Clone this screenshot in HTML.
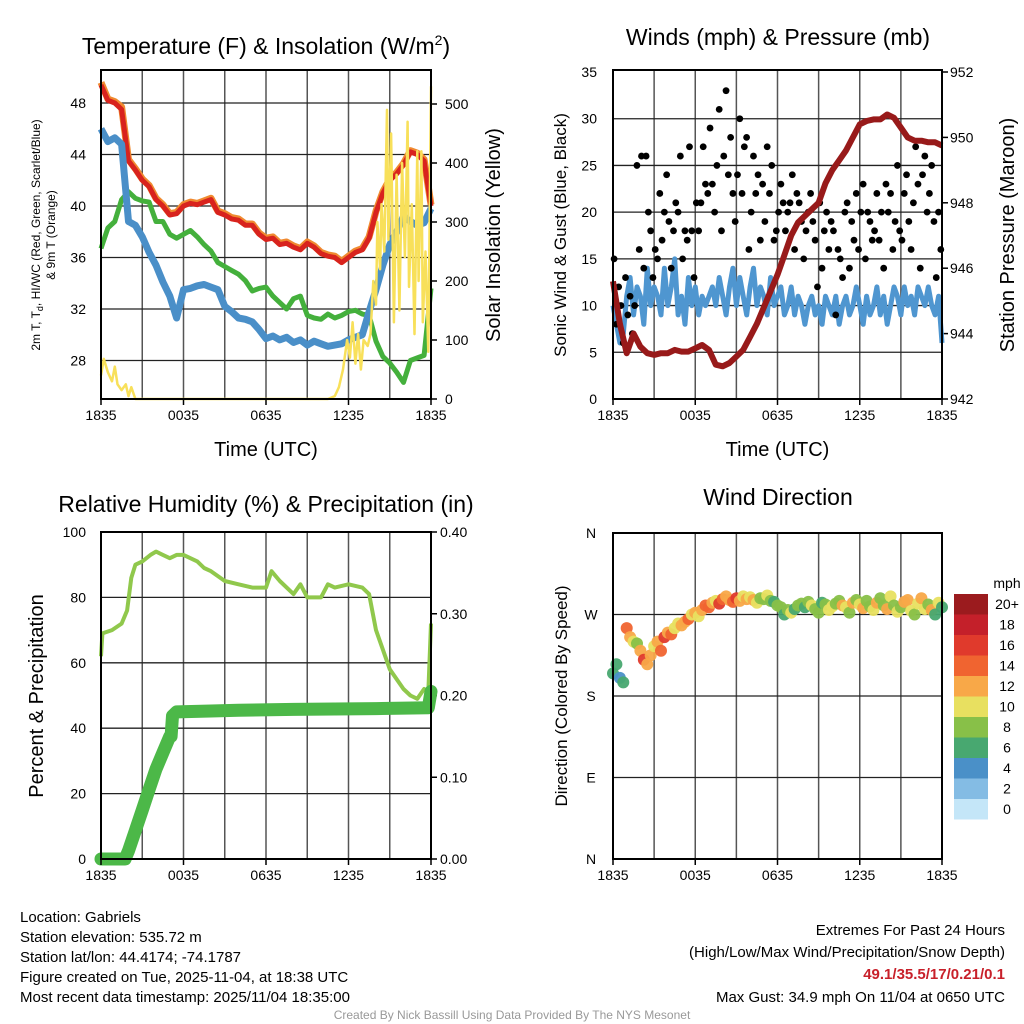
<!DOCTYPE html>
<html><head><meta charset="utf-8"><style>
body{margin:0;background:#fff;width:1024px;height:1024px;overflow:hidden;font-family:"Liberation Sans",sans-serif}
svg{position:absolute;left:0;top:0}
text{font-family:"Liberation Sans",sans-serif}
</style></head><body>
<svg id="c" width="1024" height="1024" viewBox="0 0 1024 1024"></svg>
<script>
// ---- data (hours since 1835 UTC) ----
const tempRed=[49.4,48.2,48.0,47.5,43.5,42.8,42.0,41.5,40.5,40.0,39.3,39.4,40.0,40.2,40.1,40.3,40.5,39.5,39.3,39.0,38.9,38.5,38.5,37.8,37.4,37.5,37.0,37.1,36.8,36.6,37.1,36.8,36.3,36.1,36.0,35.6,36.0,36.4,36.6,37.5,39.5,41.0,42.0,42.5,43.2,44.2,44.0,43.5,40.0];
const tempOrange=[49.6,48.3,48.1,47.7,43.6,42.9,42.1,41.6,40.6,40.1,39.4,39.5,40.1,40.3,40.2,40.4,40.6,39.6,39.4,39.1,39.0,38.6,38.6,37.9,37.5,37.6,37.1,37.2,36.9,36.7,37.2,36.9,36.4,36.2,36.1,35.7,36.1,36.5,36.7,37.6,39.6,41.1,42.1,42.6,43.3,44.3,44.1,43.6,40.1];
const tempGreen=[36.7,38.3,38.8,40.5,41.1,40.6,40.4,40.3,38.8,38.8,37.8,37.5,37.8,38.1,37.6,37.0,36.5,35.6,35.3,35.0,34.7,34.2,33.4,33.6,33.7,33.0,32.5,32.0,32.8,33.0,31.5,31.3,31.2,31.6,31.3,31.5,31.8,31.9,31.6,31.5,29.5,28.3,27.8,27.1,26.3,28.0,28.2,28.4,33.6];
const tempBlue=[46.0,45.0,45.3,44.8,38.8,38.5,37.6,36.4,35.4,34.1,33.0,31.3,33.5,33.6,33.8,33.9,33.7,33.5,32.2,31.8,31.3,31.2,31.0,30.4,29.7,29.9,29.6,29.8,29.4,29.6,29.2,29.5,29.3,29.1,29.2,29.3,29.6,29.8,30.0,31.8,33.5,35.4,37.0,38.0,39.2,38.8,38.5,38.7,39.8];
const solarHours=[0,0.2,0.5,0.8,1.0,1.2,1.5,1.8,2.0,2.2,2.5,16.5,17.0,17.3,17.6,17.9,18.1,18.3,18.5,18.7,18.9,19.1,19.4,19.6,19.8,20.0,20.1,20.3,20.4,20.6,20.8,20.9,21.1,21.3,21.5,21.7,21.9,22.1,22.3,22.4,22.6,22.8,23.0,23.1,23.3,23.4,23.6,23.8,24];
const solarVals=[40,68,45,30,55,25,15,25,5,20,0,0,5,20,50,100,70,130,60,110,50,100,90,110,200,160,300,220,330,250,490,270,450,130,380,150,400,240,470,190,330,110,420,200,420,130,250,80,530];
const windSpeed=[10,8,6,7,11,13,9,12,11,8,14,10,12,11,9,14,10,12,15,9,11,8,13,10,12,9,11,10,11,12,10,13,11,9,12,14,10,13,11,9,12,14,10,12,11,9,13,10,11,12,9,10,12,9,11,10,8,10,11,9,10,8,11,10,9,11,8,10,11,9,10,12,10,8,11,9,10,12,9,11,8,10,12,11,9,12,10,11,9,12,11,10,12,10,9,11,6];
const windGust=[15,8,12,10,6,13,9,11,7,10,25,16,26,14,26,20,18,13,16,15,22,17,20,24,19,14,18,21,20,26,15,18,17,27,18,13,21,18,21,27,23,22,29,23,20,25,31,18,26,33,24,28,22,19,24,30,22,27,28,16,20,26,22,24,17,23,19,27,22,25,17,18,20,23,21,18,20,21,24,16,22,21,19,15,18,20,22,19,17,12,21,14,18,20,16,19,18,9,16,15,13,20,21,14,19,17,22,16,20,23,15,20,19,17,18,22,17,20,14,23,20,22,16,19,25,18,17,22,24,19,16,21,27,23,14,24,26,20,22,25,19,13,20,16];
const pressure=[945.6,944.3,943.4,944.0,943.6,943.4,943.35,943.4,943.4,943.5,943.45,943.45,943.55,943.65,943.5,943.05,943.0,943.1,943.3,943.5,943.9,944.3,944.8,945.3,945.8,946.4,947.0,947.4,947.6,947.8,948.0,948.6,949.0,949.3,949.6,950.0,950.4,950.5,950.55,950.55,950.7,950.6,950.3,950.0,949.9,949.9,949.85,949.85,949.75];
const rhHours=[0,0.1,0.8,1.5,1.9,2.2,2.5,3.0,3.6,4.0,4.5,5.0,5.5,6.0,6.5,7.0,7.5,8.0,9.0,10.0,11.0,12.0,12.4,13.0,14.0,14.5,15.0,16.0,16.5,17.0,18.0,19.0,19.5,20.0,21.0,22.0,22.5,23.0,23.5,23.8,24];
const rhVals=[62,69,70,72,76,86,90,91,93,94,93,92,93,93,92,91,89,88,85,84,83,83,88,85,81,84,80,80,84,83,84,83,81,70,58,52,50,49,52,51,72];
const precipHours=[0,1.75,2,2.5,3,3.5,4,4.5,5,5.1,5.2,5.5,8,10,14,20,23.8,24];
const precipVals=[0,0,0.01,0.035,0.06,0.085,0.11,0.13,0.15,0.15,0.175,0.18,0.181,0.182,0.183,0.184,0.185,0.205];
const dirDeg=[205,215,200,195,255,245,240,238,230,220,215,225,235,240,230,245,250,248,255,260,258,262,265,270,272,268,275,280,278,283,285,282,287,290,286,284,288,285,290,287,289,286,283,288,287,291,285,284,280,278,270,275,272,276,280,282,278,284,280,276,272,283,281,275,279,282,285,280,278,272,283,286,281,277,285,279,275,283,288,280,276,290,280,273,278,284,286,274,270,282,288,276,281,275,270,283,278];
const dirSpeed=[6,7,5,6,14,12,10,9,12,16,13,12,11,13,14,17,12,15,11,10,12,13,14,11,12,10,13,15,14,12,11,16,15,13,12,14,16,12,11,13,10,12,11,9,8,10,9,7,8,9,7,8,10,7,9,8,7,8,10,9,8,7,9,10,11,8,9,12,10,9,12,8,11,13,9,8,10,12,8,9,12,10,8,11,9,12,13,10,8,11,12,10,9,12,7,10,6];
const xTicks=["1835","0035","0635","1235","1835"];
const cbLabels=["20+","18","16","14","12","10","8","6","4","2","0"];
const cbColors=["#9b1b1e","#c4202a","#e03a2c","#f06430","#f8a848","#e8e060","#88c048","#48a870","#4a90c8","#84bce4","#c4e6f8"];

const svg=document.getElementById('c');
const NS='http://www.w3.org/2000/svg';
function el(tag,attrs,parent){const e=document.createElementNS(NS,tag);for(const k in attrs)e.setAttribute(k,attrs[k]);(parent||svg).appendChild(e);return e;}
function txt(s,x,y,size,anchor,parent,extra){const t=el('text',Object.assign({x:x,y:y,'font-size':size,'text-anchor':anchor||'start',fill:'#000'},extra||{}),parent);t.textContent=s;return t;}

function panel(name,x0,y0,x1,y1,hGridVals,yfn){
  const g=el('g',{});
  
  
  const xs=h=>x0+h/24*(x1-x0);
  for(let i=1;i<8;i++){const x=xs(i*3);el('line',{x1:x,y1:y0,x2:x,y2:y1,stroke:'#555','stroke-width':1.5},g);}
  hGridVals.forEach(v=>{const y=yfn(v);el('line',{x1:x0,y1:y,x2:x1,y2:y,stroke:'#222','stroke-width':1.3},g);});
  return {g,xs};
}
function frame(g,x0,y0,x1,y1){el('rect',{x:x0,y:y0,width:x1-x0,height:y1-y0,fill:'none',stroke:'#000','stroke-width':2},g);}
function xAxis(g,xs,y1,withTitle){
  xTicks.forEach((t,i)=>{const x=xs(i*6);
    const l=txt(t,x,y1+21,14,'middle',g);
    
    
    el('line',{x1:x,y1:y1,x2:x,y2:y1+6,stroke:'#000','stroke-width':1.5},g);});
  if(withTitle){const t=txt('Time (UTC)',xs(12),y1+57,20,'middle',g);
    
    }
}
function pathFrom(hours,vals,xs,yfn){return hours.map((h,i)=>(i?'L':'M')+xs(h).toFixed(1)+','+yfn(vals[i]).toFixed(1)).join(' ');}
const half=n=>Array.from({length:n},(_,i)=>i*0.5);
const quarter=n=>Array.from({length:n},(_,i)=>i*0.25);

// ---- Panel 1: Temperature ----
{
  const x0=101,y0=70,x1=431,y1=399;
  const yT=v=>103+(48-v)*51.5/4;
  const yS=v=>399-v*0.59;
  const {g,xs}=panel('temperature-panel',x0,y0,x1,y1,[28,32,36,40,44,48],yT);
  [28,32,36,40,44,48].forEach(v=>{const l=txt(String(v),86,yT(v)+5,14,'end',g);});
  [0,100,200,300,400,500].forEach(v=>{const l=txt(String(v),445,yS(v)+5,14,'start',g);
    el('line',{x1:x1,y1:yS(v),x2:x1+6,y2:yS(v),stroke:'#000','stroke-width':1.5},g);});
  const hh=half(49);
  const po=el('path',{d:pathFrom(hh,tempOrange,xs,yT),fill:'none',stroke:'#f08a30','stroke-width':7,'stroke-linejoin':'round'},g);
  
  const pr=el('path',{d:pathFrom(hh,tempRed,xs,yT),fill:'none',stroke:'#d8231e','stroke-width':5,'stroke-linejoin':'round'},g);
  
  const pg=el('path',{d:pathFrom(hh,tempGreen,xs,yT),fill:'none',stroke:'#44b03c','stroke-width':5,'stroke-linejoin':'round'},g);
  
  const pb=el('path',{d:pathFrom(hh,tempBlue,xs,yT),fill:'none',stroke:'#4a8fc8','stroke-width':7,'stroke-linejoin':'round'},g);
  
  const py=el('path',{d:pathFrom(solarHours,solarVals,xs,yS),fill:'none',stroke:'#f8e05a','stroke-width':2.5,'stroke-linejoin':'round'},g);
  
  frame(g,x0,y0,x1,y1);
  xAxis(g,xs,y1,true);
  const t=el('text',{x:266,y:54,'font-size':23,'text-anchor':'middle'},g);
  t.innerHTML='Temperature (F) &amp; Insolation (W/m<tspan font-size="14" dy="-9">2</tspan><tspan dy="9">)</tspan>';
  
  const l1=el('text',{transform:'translate(40,235) rotate(-90)','font-size':12,'text-anchor':'middle'},g);
  l1.innerHTML='2m T, T<tspan font-size="9" dy="3">d</tspan><tspan dy="-3">, HI/WC (Red, Green, Scarlet/Blue)</tspan>';
  
  const l2=txt('& 9m T (Orange)',0,0,12,'middle',g,{transform:'translate(55,235) rotate(-90)'});
  
  const l3=txt('Solar Insolation (Yellow)',0,0,20,'middle',g,{transform:'translate(500,235) rotate(-90)'});
  
}

// ---- Panel 2: Winds ----
{
  const x0=613,y0=70,x1=942,y1=399;
  const yW=v=>399-v*327/35;
  const yP=v=>399-(v-942)*32.7;
  const {g,xs}=panel('winds-panel',x0,y0,x1,y1,[5,10,15,20,25,30],yW);
  [0,5,10,15,20,25,30,35].forEach(v=>{const l=txt(String(v),597,yW(v)+5,14,'end',g);});
  [942,944,946,948,950,952].forEach(v=>{const l=txt(String(v),950,yP(v)+5,14,'start',g);
    el('line',{x1:x1,y1:yP(v),x2:x1+6,y2:yP(v),stroke:'#000','stroke-width':1.5},g);});
  const pw=el('path',{d:pathFrom(quarter(97),windSpeed,xs,yW),fill:'none',stroke:'#4f96d0','stroke-width':5,'stroke-linejoin':'round'},g);
  
  windGust.forEach((v,i)=>{const c=el('circle',{cx:xs(i/6+0.08),cy:yW(v),r:3.4,fill:'#000'},g);
    });
  const pp=el('path',{d:pathFrom(half(49),pressure,xs,yP),fill:'none',stroke:'#981a1a','stroke-width':6,'stroke-linejoin':'round'},g);
  
  frame(g,x0,y0,x1,y1);
  xAxis(g,xs,y1,true);
  const t=txt('Winds (mph) & Pressure (mb)',778,45,23,'middle',g);
  const l1=txt('Sonic Wind & Gust (Blue, Black)',0,0,17,'middle',g,{transform:'translate(566,235) rotate(-90)'});
  
  const l2=txt('Station Pressure (Maroon)',0,0,20,'middle',g,{transform:'translate(1014,235) rotate(-90)'});
  
}

// ---- Panel 3: RH ----
{
  const x0=101,y0=532,x1=431,y1=859;
  const yR=v=>859-v*3.27;
  const yQ=v=>859-v*817.5;
  const {g,xs}=panel('humidity-panel',x0,y0,x1,y1,[20,40,60,80],yR);
  [0,20,40,60,80,100].forEach(v=>{const l=txt(String(v),86,yR(v)+5,14,'end',g);});
  [0,0.1,0.2,0.3,0.4].forEach(v=>{const l=txt(v.toFixed(2),440,yQ(v)+5,14,'start',g);
    el('line',{x1:x1,y1:yQ(v),x2:x1+6,y2:yQ(v),stroke:'#000','stroke-width':1.5},g);});
  const pr=el('path',{d:pathFrom(rhHours,rhVals,xs,yR),fill:'none',stroke:'#90c84c','stroke-width':4,'stroke-linejoin':'round'},g);
  
  const pq=el('path',{d:pathFrom(precipHours,precipVals,xs,yQ),fill:'none',stroke:'#4cb848','stroke-width':13,'stroke-linejoin':'round','stroke-linecap':'round'},g);
  
  frame(g,x0,y0,x1,y1);
  xAxis(g,xs,y1,false);
  const t=txt('Relative Humidity (%) & Precipitation (in)',266,512,23,'middle',g);
  const l1=txt('Percent & Precipitation',0,0,20,'middle',g,{transform:'translate(43,696) rotate(-90)'});
  
}

// ---- Panel 4: Wind direction ----
{
  const x0=613,y0=533,x1=942,y1=859;
  const yD=v=>859-v*(326/360);
  const {g,xs}=panel('wind-direction-panel',x0,y0,x1,y1,[90,180,270],yD);
  [['N',0],['E',90],['S',180],['W',270],['N',360]].forEach(([s,v])=>{const l=txt(s,591,yD(v)+5,14,'middle',g);});
  const colorFor=s=>cbColors[10-Math.min(10,Math.floor(s/2))];
  dirDeg.forEach((d,i)=>{const c=el('circle',{cx:xs(i*0.25),cy:yD(d),r:6,fill:colorFor(dirSpeed[i]),opacity:0.95},g);
    });
  frame(g,x0,y0,x1,y1);
  xAxis(g,xs,y1,false);
  const t=txt('Wind Direction',778,505,23,'middle',g);
  const l1=txt('Direction (Colored By Speed)',0,0,17,'middle',g,{transform:'translate(567,696) rotate(-90)'});
  
  const cb=el('g',{},g);
  
  txt('mph',1007,588,14,'middle',cb);
  cbColors.forEach((c,i)=>{el('rect',{x:954,y:594+i*20.5,width:34,height:20.5,fill:c},cb);
    const l=txt(cbLabels[i],1007,609+i*20.5,14,'middle',cb);
    });
}

// ---- footer text ----
{
  const g=el('g',{});
  
  ['Location: Gabriels','Station elevation: 535.72 m','Station lat/lon: 44.4174; -74.1787','Figure created on Tue, 2025-11-04, at 18:38 UTC','Most recent data timestamp: 2025/11/04 18:35:00'].forEach((s,i)=>txt(s,20,922+i*20,15,'start',g));
  const r=el('g',{});
  
  txt('Extremes For Past 24 Hours',1005,935,15,'end',r);
  txt('(High/Low/Max Wind/Precipitation/Snow Depth)',1005,957,15,'end',r);
  txt('49.1/35.5/17/0.21/0.1',1005,979,15,'end',r,{fill:'#c8202a','font-weight':'bold'});
  txt('Max Gust: 34.9 mph On 11/04 at 0650 UTC',1005,1002,15,'end',r);
  const cr=txt('Created By Nick Bassill Using Data Provided By The NYS Mesonet',512,1019,12,'middle',null,{fill:'#999'});
  
}
</script>
</body></html>
